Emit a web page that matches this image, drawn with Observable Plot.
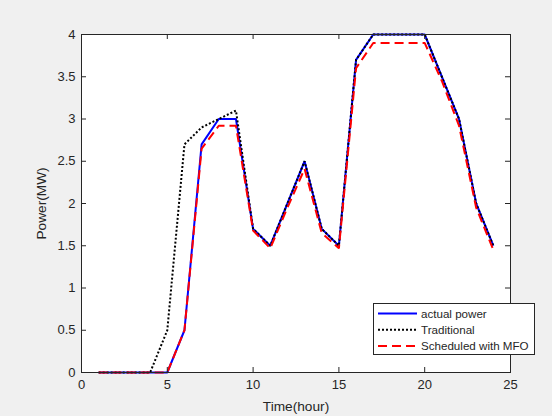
<!DOCTYPE html>
<html>
<head>
<meta charset="utf-8">
<script src="https://cdn.jsdelivr.net/npm/d3@7"></script>
<script src="https://cdn.jsdelivr.net/npm/@observablehq/plot@0.6"></script>
<style>
  html, body { margin: 0; padding: 0; background: #f0f0f0; }
  #wrap { position: relative; width: 552px; height: 416px; }
  #legend { position: absolute; left: 373px; top: 303px; width: 162px; height: 52px; }
</style>
</head>
<body>
<div id="wrap"></div>
<script>
const hours = [1,2,3,4,5,6,7,8,9,10,11,12,13,14,15,16,17,18,19,20,21,22,23,24];
const actualPower = [0,0,0,0,0,0.5,2.7,3.0,3.0,1.7,1.5,2.0,2.5,1.7,1.5,3.7,4.0,4.0,4.0,4.0,3.5,3.0,2.0,1.5];
const traditional = [0,0,0,0,0.5,2.7,2.9,3.0,3.1,1.7,1.5,2.0,2.5,1.7,1.5,3.7,4.0,4.0,4.0,4.0,3.5,3.0,2.0,1.5];
const scheduledMFO = [0,0,0,0,0,0.5,2.65,2.92,2.92,1.68,1.47,1.95,2.41,1.65,1.47,3.6,3.9,3.9,3.9,3.9,3.45,2.92,1.95,1.45];
const xTicks = [0,5,10,15,20,25];
const yTicks = [0,0.5,1,1.5,2,2.5,3,3.5,4];
const xLabel = "Time(hour)";
const yLabel = "Power(MW)";
const seriesNames = ["actual power","Traditional","Scheduled with MFO"];
const seriesColors = ["#0000ff","#000000","#ff0000"];
const seriesDash = [null,"2,2","9,5"];

const toRows = (vals) => hours.map((h,i) => ({hour: h, value: vals[i]}));
const allSeries = [actualPower, traditional, scheduledMFO];

const W = 552, H = 416, ML = 81, MR = 42, MT = 34, MB = 44;
const PW = W - ML - MR, PH = H - MT - MB;
const axisColor = "#262626";

const chart = Plot.plot({
  width: W, height: H,
  marginLeft: ML, marginRight: MR, marginTop: MT, marginBottom: MB,
  style: {background: "#f0f0f0", fontFamily: "'Liberation Sans', Arial, sans-serif", fontSize: "13px", color: axisColor},
  x: {domain: [0,25]},
  y: {domain: [0,4]},
  marks: [
    Plot.frame({fill: "white"}),
    ...allSeries.map((vals, i) => Plot.lineY(toRows(vals), {
      x: "hour", y: "value", stroke: seriesColors[i], strokeWidth: 2,
      strokeDasharray: seriesDash[i], strokeLinecap: "butt", strokeLinejoin: "miter"
    })),
    Plot.frame({stroke: axisColor, strokeWidth: 1}),
    // inward ticks on four sides
    Plot.tickX(xTicks, {x: d => d, stroke: axisColor, insetTop: PH - 5}),
    Plot.tickX(xTicks, {x: d => d, stroke: axisColor, insetBottom: PH - 5}),
    Plot.tickY(yTicks, {y: d => d, stroke: axisColor, insetRight: PW - 5}),
    Plot.tickY(yTicks, {y: d => d, stroke: axisColor, insetLeft: PW - 5}),
    Plot.axisX(xTicks, {tickSize: 0, tickPadding: 7, label: xLabel, labelArrow: "none", labelAnchor: "center", labelOffset: 38, fontSize: 13}),
    Plot.axisY(yTicks, {tickSize: 0, tickPadding: 6, tickFormat: d => String(d), label: yLabel, labelArrow: "none", labelAnchor: "center", labelOffset: 45, fontSize: 13})
  ]
});
const wrap = document.getElementById("wrap");
wrap.appendChild(chart);
chart.querySelectorAll("text").forEach(t => {
  if (t.textContent === xLabel || t.textContent === yLabel) {
    t.setAttribute("font-size", "13.7px");
    t.style.fontSize = "13.7px";
  }
});

// legend
const legend = document.createElement("div");
legend.id = "legend";
const ns = "http://www.w3.org/2000/svg";
const ls = document.createElementNS(ns, "svg");
ls.setAttribute("width", 162); ls.setAttribute("height", 52);
ls.style.display = "block";
const bg = document.createElementNS(ns, "rect");
bg.setAttribute("x", 0.5); bg.setAttribute("y", 0.5); bg.setAttribute("width", 161); bg.setAttribute("height", 51);
bg.setAttribute("fill", "white"); bg.setAttribute("stroke", axisColor);
ls.appendChild(bg);
seriesNames.forEach((name, i) => {
  const cy = 10.5 + i * 16.2;
  const ln = document.createElementNS(ns, "line");
  ln.setAttribute("x1", 5); ln.setAttribute("x2", 44);
  ln.setAttribute("y1", cy); ln.setAttribute("y2", cy);
  ln.setAttribute("stroke", seriesColors[i]); ln.setAttribute("stroke-width", 2);
  if (seriesDash[i]) ln.setAttribute("stroke-dasharray", seriesDash[i]);
  ls.appendChild(ln);
  const tx = document.createElementNS(ns, "text");
  tx.setAttribute("x", 48); tx.setAttribute("y", cy);
  tx.setAttribute("dy", "0.35em");
  tx.setAttribute("fill", axisColor);
  tx.setAttribute("font-family", "'Liberation Sans', Arial, sans-serif");
  tx.setAttribute("font-size", "11.6px");
  tx.textContent = name;
  ls.appendChild(tx);
});
legend.appendChild(ls);
wrap.appendChild(legend);
</script>
</body>
</html>
